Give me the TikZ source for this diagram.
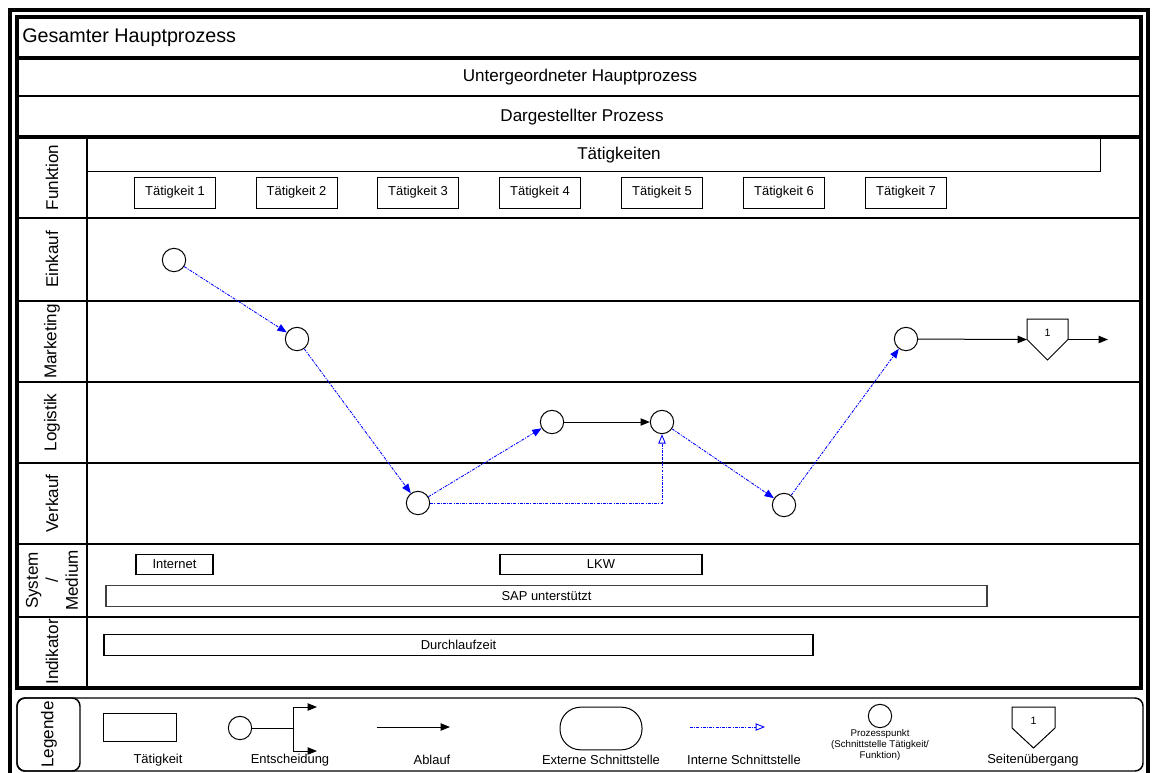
\documentclass[tikz,border=0pt]{standalone}
\usepackage{fontspec}
\setmainfont{Liberation Sans}
\usetikzlibrary{arrows.meta,calc}
\definecolor{ifblue}{RGB}{0,0,255}
\begin{document}
\begin{tikzpicture}[x=0.75pt,y=-0.75pt,
  heavy/.style={line width=2.8pt},
  medium/.style={line width=2pt},
  laneline/.style={line width=1.1pt},
  thinline/.style={line width=0.75pt},
  lanelabel/.style={rotate=90,font=\fontsize{12.8}{15}\selectfont,align=center,inner sep=0pt},
  headtext/.style={font=\fontsize{12.8}{15}\selectfont,inner sep=0pt},
  actbox/.style={draw,line width=0.75pt,minimum width=60.75pt,minimum height=23.25pt,inner sep=0pt,font=\fontsize{9.7}{11}\selectfont},
  sysbox/.style={draw,line width=0.85pt,minimum height=15.5pt,inner sep=0pt,font=\fontsize{9.7}{11}\selectfont},
  ppoint/.style={draw,circle,line width=0.75pt,minimum size=17.5pt,inner sep=0pt},
  flow/.style={line width=0.75pt,-{Triangle[length=7pt,width=5.5pt]}},
  ifdash/.style={ifblue,line width=0.65pt,dash pattern=on 2.2pt off 0.9pt on 0.8pt off 0.9pt},
  iface/.style={ifdash,-{Triangle[length=7pt,width=5.5pt]}},
  ifaceopen/.style={ifdash,-{Triangle[open,length=7pt,width=5.5pt]}},
  legtext/.style={font=\fontsize{9.7}{11}\selectfont,inner sep=0pt},
  smalltext/.style={font=\fontsize{7.3}{8.6}\selectfont,inner sep=0pt,align=center},
]
\useasboundingbox (0,0) rectangle (1153,772);

% ---------- frames ----------
\draw[heavy] (10,776) -- (10,10) -- (1148,10) -- (1148,776);
\draw[heavy] (17,17) rectangle (1141,688);
\draw[heavy] (17,58) -- (1141,58);
\draw[medium] (17,96) -- (1141,96);
\draw[heavy] (17,137) -- (1141,137);

% ---------- header texts ----------
\node[anchor=west,font=\fontsize{14.8}{17}\selectfont,inner sep=0pt] (gesamt) at (22,38) {Gesamter Hauptprozess};
\node[headtext] (unter) at (580,77) {Untergeordneter Hauptprozess};
\node[headtext] (darg) at (582,117) {Dargestellter Prozess};

% ---------- swimlanes ----------
\foreach \yy in {218,301,382,463,544,617}
  \draw[laneline] (17,\yy) -- (1141,\yy);
\draw[laneline] (87,137) -- (87,688);

\node[lanelabel] (lFunktion)  at (52,177.5) {Funktion};
\node[lanelabel] (lEinkauf)   at (52,259.5) {Einkauf};
\node[lanelabel] (lMarketing) at (52,341.5) {Marketing};
\node[lanelabel] (lLogistik)  at (52,422.5) {Logistik};
\node[lanelabel] (lVerkauf)   at (52,503.5) {Verkauf};
\node[lanelabel] (lSystem)    at (52,580.5) {System\\/\\Medium};
\node[lanelabel] (lIndikator) at (52,652) {Indikator};

% ---------- activities ----------
\draw[thinline] (87,171) -- (1100,171) -- (1100,137);
\node[headtext] (taetigkeiten) at (619,155) {Tätigkeiten};
\foreach \i/\xx in {1/175,2/296.5,3/418,4/540,5/662,6/784,7/906}
  \node[actbox] (t\i) at (\xx,192.5) {Tätigkeit \i};

% ---------- process points ----------
\node[ppoint] (e1) at (174,260) {};
\node[ppoint] (m1) at (297,339) {};
\node[ppoint] (v1) at (418,503) {};
\node[ppoint] (l1) at (552,422) {};
\node[ppoint] (l2) at (662,422) {};
\node[ppoint] (v2) at (784,505) {};
\node[ppoint] (m2) at (906,339) {};

% page connector
\coordinate (pcW) at (1027,339.5);
\coordinate (pcE) at (1068,339.5);
\draw[thinline] (1027,319) -- (1068,319) -- (pcE) -- (1047.5,360) -- (pcW) -- cycle;
\node[font=\fontsize{8}{9}\selectfont,inner sep=0pt] (pc) at (1047.5,333) {1};
\coordinate (pcOut) at (1108,339.5);

% ---------- connectors ----------
\draw[iface] (e1) -- (m1);
\draw[iface] (m1) -- (v1);
\draw[iface] (v1) -- (l1);
\draw[flow] (l1) -- (l2);
\draw[ifaceopen] (v1.east) -| (l2.south);
\draw[iface] (l2) -- (v2);
\draw[iface] (v2) -- (m2);
\draw[flow] (m2) -- (pcW);
\draw[flow] (pcE) -- (pcOut);

% ---------- system / medium and indicator ----------
\node[sysbox,minimum width=57.75pt] (internet) at (174.5,564.5) {Internet};
\node[sysbox,minimum width=151.5pt] (lkw) at (601,564.5) {LKW};
\node[sysbox,minimum width=660.75pt,draw=black!75] (sap) at (546.5,596) {SAP unterstützt};
\node[sysbox,minimum width=531.75pt] (dlz) at (458.5,645) {Durchlaufzeit};

% ---------- legend ----------
\draw[line width=1.1pt,rounded corners=6pt] (17,698) rectangle (1143,771);
\draw[line width=1.1pt,rounded corners=6pt] (17,698) rectangle (80,771);
\node[lanelabel] (legende) at (49,734.5) {Legende};

\node[draw,line width=0.75pt,minimum width=55pt,minimum height=21pt,inner sep=0pt] (lgAct) at (140,727) {};
\node[legtext] (lgActT) at (158,760) {Tätigkeit};

\node[ppoint] (lgDec) at (240,728) {};
\coordinate (lgFork) at (293,728);
\coordinate (lgUp) at (293,707);
\coordinate (lgDown) at (293,751);
\coordinate (lgUpEnd) at (317,707);
\coordinate (lgDownEnd) at (317,751);
\draw[thinline] (lgDec) -- (lgFork);
\draw[thinline] (lgUp) -- (lgDown);
\draw[flow] (lgUp) -- (lgUpEnd);
\draw[flow] (lgDown) -- (lgDownEnd);
\node[legtext] (lgDecT) at (290,760) {Entscheidung};

\coordinate (lgFlowA) at (377,727);
\coordinate (lgFlowB) at (450,727);
\draw[flow] (lgFlowA) -- (lgFlowB);
\node[legtext] (lgFlowT) at (432,760) {Ablauf};

\node[draw,line width=0.75pt,minimum width=61.5pt,minimum height=32pt,rounded corners=15.5pt,inner sep=0pt] (lgExt) at (601,728.5) {};
\node[legtext] (lgExtT) at (601,760) {Externe Schnittstelle};

\coordinate (lgIfA) at (690,727);
\coordinate (lgIfB) at (765,727);
\draw[ifaceopen] (lgIfA) -- (lgIfB);
\node[legtext] (lgIfT) at (744,760) {Interne Schnittstelle};

\node[ppoint] (lgPP) at (880,716) {};
\node[smalltext] (lgPPT) at (880,745) {Prozesspunkt\\(Schnittstelle Tätigkeit/\\Funktion)};

\draw[thinline] (1012,707) -- (1055,707) -- (1055,728) -- (1033.5,748) -- (1012,728) -- cycle;
\node[font=\fontsize{8}{9}\selectfont,inner sep=0pt] (lgPage) at (1033.5,721) {1};
\node[legtext] (lgPageT) at (1033,760) {Seitenübergang};

\end{tikzpicture}
\end{document}
